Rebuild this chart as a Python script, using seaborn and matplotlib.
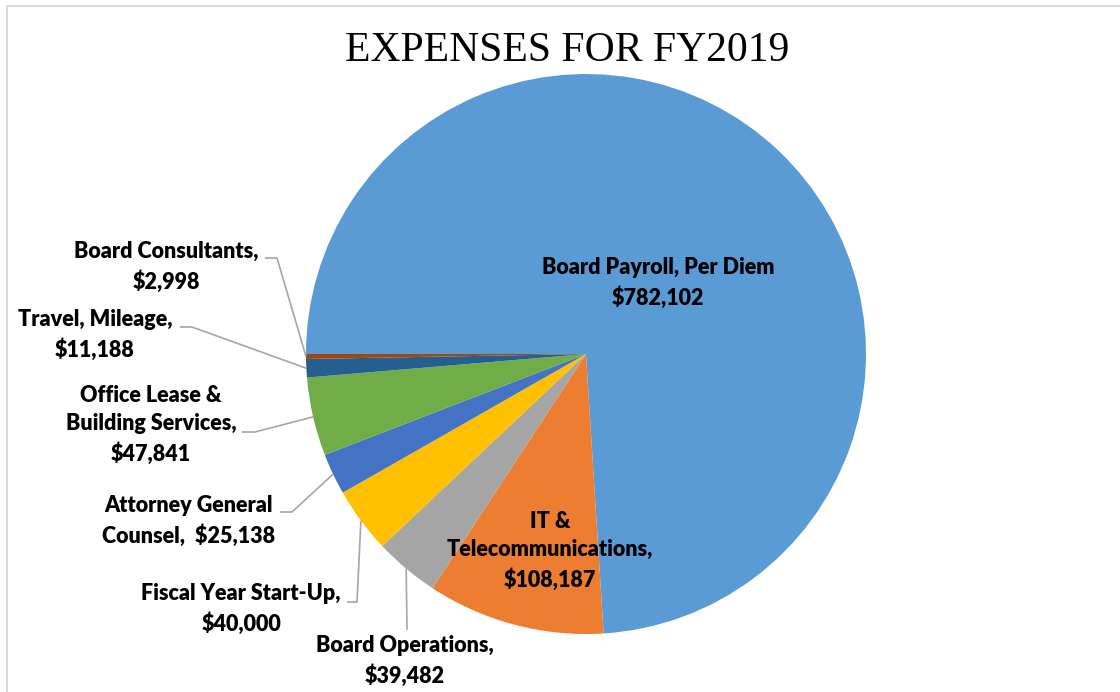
import numpy as np
import matplotlib
matplotlib.use("Agg")
import matplotlib.pyplot as plt
from matplotlib.patches import Rectangle
import seaborn as sns

# dane z wykresu (FY2019)
categories = ["Board Payroll, Per Diem", "IT & Telecommunications", "Board Operations",
              "Fiscal Year Start-Up", "Attorney General Counsel",
              "Office Lease & Building Services", "Travel, Mileage", "Board Consultants"]
values = [782102, 108187, 39482, 40000, 25138, 47841, 11188, 2998]
label_texts = ["Board Payroll, Per Diem\n$782,102",
               "IT &\nTelecommunications,\n$108,187",
               "Board Operations,\n$39,482",
               "Fiscal Year Start-Up,\n$40,000",
               "Attorney General\nCounsel,  $25,138",
               "Office Lease &\nBuilding Services,\n$47,841",
               "Travel, Mileage,\n$11,188",
               "Board Consultants,\n$2,998"]
colors = ["#5B9BD5", "#ED7D31", "#A5A5A5", "#FFC000", "#4472C4",
          "#70AD47", "#255E91", "#9E480E"]

sns.set_theme(style="white")
plt.rcParams['font.family'] = ['Lato', 'DejaVu Sans']

W, H = 1120, 692
fig = plt.figure(figsize=(W / 100, H / 100), dpi=100)

# srodek kola i promien w pikselach
cx, cy, R = 586, 354, 280
ax = fig.add_axes([(cx - R) / W, (H - cy - R) / H, 2 * R / W, 2 * R / H])
wedges, _ = ax.pie(values, colors=colors, startangle=180, counterclock=False,
                   radius=1, wedgeprops=dict(linewidth=0))
ax.set_xlim(-1, 1)
ax.set_ylim(-1, 1)
ax.set_aspect('equal')
ax.axis('off')


def px(x, y):
    return (x - cx) / R, (cy - y) / R


# pozycje etykiet (piksele) i punkty zalamania linii
label_pos = [(658, 283), (550, 551), (405, 661), (241, 608.5),
             (189, 520.5), (151, 425), (95, 334.5), (166, 266.5)]
leaders = [None, None, [(407, 630), (407, 630)], [(347, 602), (357, 602)],
           [(280, 512), (292, 512)], [(242, 432), (255, 432)],
           [(180, 327), (192, 327)], [(265, 258), (277, 258)]]

for w, txt, pos, ld in zip(wedges, label_texts, label_pos, leaders):
    x, y = px(*pos)
    ax.text(x, y, txt, ha='center', va='center', multialignment='center',
            fontsize=15.5, fontweight='heavy', color='black', linespacing=1.45,
            clip_on=False)
    if ld is not None:
        mid = np.deg2rad((w.theta1 + w.theta2) / 2)
        ex, ey = np.cos(mid), np.sin(mid)
        p0 = px(*ld[0])
        p1 = px(*ld[1])
        ax.plot([p0[0], p1[0], ex], [p0[1], p1[1], ey], color='#A6A6A6',
                lw=1.2, clip_on=False, solid_capstyle='butt')

fig.text(567 / W, 1 - 51 / H, "EXPENSES FOR FY2019", ha='center', va='center',
         fontsize=30, family=['Liberation Serif', 'DejaVu Serif'], color='black')

fig.add_artist(Rectangle((7 / W, -0.05), 1.2, (H - 6) / H + 0.05,
                         transform=fig.transFigure, fill=False,
                         edgecolor='#D9D9D9', lw=1.5))

fig.savefig("out.png", dpi=100)
